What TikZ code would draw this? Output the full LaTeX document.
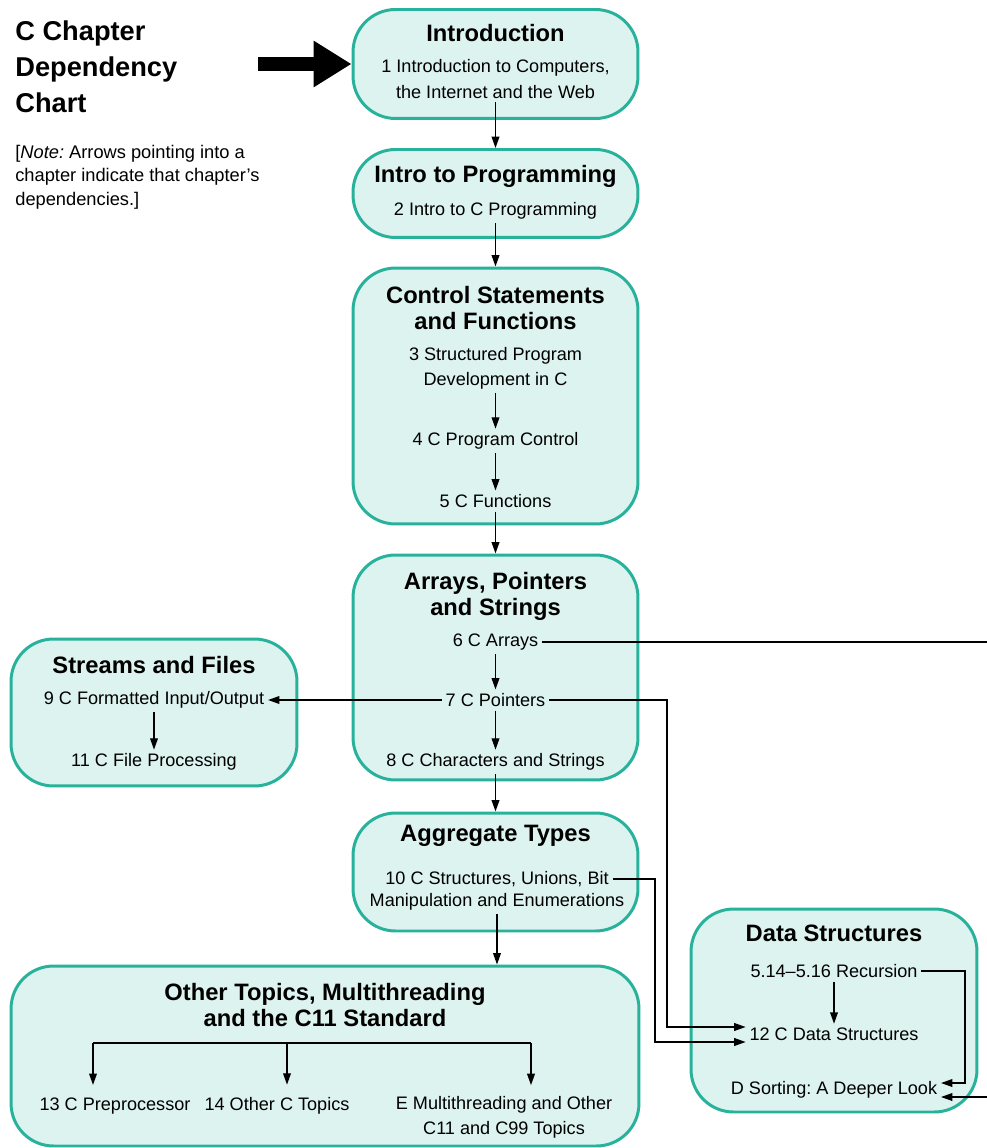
\documentclass[tikz,border=0pt]{standalone}
\usepackage{fontspec}
\setmainfont{Liberation Sans}
\usepackage{tikz}
\usetikzlibrary{arrows.meta,positioning,calc}
\definecolor{chapTeal}{RGB}{40,178,155}
\definecolor{chapMint}{RGB}{221,243,239}
\frenchspacing

\begin{document}
\begin{tikzpicture}[
    x=0.02cm, y=-0.02cm,
    box/.style={rectangle, draw=chapTeal, fill=chapMint, line width=1.7pt, rounded corners=0.85cm},
    head/.style={font=\fontsize{13.5}{14.8}\selectfont\bfseries, align=center, inner sep=0pt},
    chap/.style={font=\fontsize{10.3}{14.3}\selectfont, align=center, inner sep=2pt},
    arrow/.style={-{Triangle[length=6.5pt, width=4.4pt]}, line width=0.8pt}
]
    \useasboundingbox (0,0) rectangle (986,1148);

    % Title and note
    \node[anchor=north west, inner sep=0pt, align=left, font=\fontsize{15.5}{20.7}\selectfont\bfseries] (charttitle) at (15,20) {C Chapter\\Dependency\\Chart};
    \node[anchor=north west, inner sep=0pt, align=left, font=\fontsize{10.4}{13.3}\selectfont] (note) at (15,145) {[\textit{Note:} Arrows pointing into a\\chapter indicate that chapter's\\dependencies.]};

    % Boxes
    \node[box, minimum width=5.70cm, minimum height=2.18cm] (introbox) at (495.5,64) {};
    \node[box, minimum width=5.70cm, minimum height=1.76cm] (progbox) at (495.5,193.5) {};
    \node[box, minimum width=5.70cm, minimum height=5.12cm] (ctrlbox) at (495.5,396) {};
    \node[box, minimum width=5.70cm, minimum height=4.50cm] (arrbox) at (495.5,667.5) {};
    \node[box, minimum width=5.70cm, minimum height=2.36cm] (aggbox) at (495.5,872) {};
    \node[box, minimum width=12.56cm, minimum height=3.60cm] (othbox) at (325,1056) {};
    \node[box, minimum width=5.72cm, minimum height=2.94cm] (strbox) at (154,712.5) {};
    \node[box, minimum width=5.72cm, minimum height=4.06cm] (dsbox) at (834,1010.5) {};

    % Introduction
    \node[head] (introttl) at (495.5,33) {Introduction};
    \node[chap] (ch1) at (495.5,79) {1 Introduction to Computers,\\the Internet and the Web};

    % Intro to Programming
    \node[head] (progttl) at (495.5,176) {Intro to Programming};
    \node[chap] (ch2) at (495.5,211) {2 Intro to C Programming};

    % Control Statements and Functions
    \node[head] (ctrlttl) at (495.5,308) {Control Statements\\and Functions};
    \node[chap] (ch3) at (495.5,368) {3 Structured Program\\Development in C};
    \node[chap] (ch4) at (495.5,441) {4 C Program Control};
    \node[chap] (ch5) at (495.5,501) {5 C Functions};

    % Arrays, Pointers and Strings
    \node[head] (arrttl) at (495.5,596) {Arrays, Pointers\\and Strings};
    \node[chap] (ch6) at (495.5,642) {6 C Arrays};
    \node[chap] (ch7) at (495.5,700) {7 C Pointers};
    \node[chap] (ch8) at (495.5,762) {8 C Characters and Strings};

    % Aggregate Types
    \node[head] (aggttl) at (495.5,836) {Aggregate Types};
    \node[chap] (ch10) at (497,879) {10 C Structures, Unions, Bit};
    \node[chap] (ch10b) at (497,902) {Manipulation and Enumerations};

    % Other Topics
    \node[head] (othttl) at (325,1005) {Other Topics, Multithreading\\and the C11 Standard};
    \node[chap] (ch13) at (115,1106) {13 C Preprocessor};
    \node[chap] (ch14) at (277,1106) {14 Other C Topics};
    \node[chap] (chE) at (504,1117) {E Multithreading and Other\\C11 and C99 Topics};

    % Streams and Files
    \node[head] (strttl) at (154,665) {Streams and Files};
    \node[chap] (ch9) at (154,700) {9 C Formatted Input/Output};
    \node[chap] (ch11) at (154,762) {11 C File Processing};

    % Data Structures
    \node[head] (dsttl) at (834,933) {Data Structures};
    \node[chap] (rec) at (834,971) {5.14--5.16 Recursion};
    \node[chap] (ch12) at (834,1034) {12 C Data Structures};
    \node[chap] (chD) at (834,1090) {D Sorting: A Deeper Look};

    % Lanes
    \coordinate (pointer) at (258,64);
    \coordinate (offpage) at (1000,642);
    \coordinate (lane7) at (667,0);
    \coordinate (lane10) at (655,0);
    \coordinate (laneR) at (965,0);
    \coordinate (barL) at (93,1043);
    \coordinate (barM) at (287,1043);
    \coordinate (barR) at (531,1043);

    % Big arrow
    \draw[line width=7.9pt, -{Triangle[length=0.76cm, width=0.88cm]}] (pointer) -- (introbox.west);

    % Main column
    \draw[arrow] (ch1) -- (progbox);
    \draw[arrow] (ch2) -- (ctrlbox);
    \draw[arrow] (ch3) -- (ch4);
    \draw[arrow] (ch4) -- (ch5);
    \draw[arrow] (ch5) -- (arrbox);
    \draw[arrow] (ch6) -- (ch7);
    \draw[arrow] (ch7) -- (ch8);
    \draw[arrow] (ch8) -- (aggbox);
    \draw[arrow] (ch10b) -- (ch10b |- othbox.north);

    % Side arrows
    \draw[arrow] (ch7) -- (ch9);
    \draw[arrow] (ch9) -- (ch11);
    \draw[arrow] (rec) -- (ch12);
    \draw[arrow] (ch6) -- (offpage) |- ([yshift=-0.14cm]chD.east);
    \draw[arrow] (rec) -- (rec -| laneR) |- ([yshift=0.14cm]chD.east);
    \draw[arrow] (ch7) -- (ch7 -| lane7) |- ([yshift=0.14cm]ch12.west);
    \draw[arrow] (ch10) -- (ch10 -| lane10) |- ([yshift=-0.16cm]ch12.west);

    % Split
    \draw[line width=0.8pt] (barL) -- (barR);
    \draw[arrow] (barL) -- ($(barL |- ch13.north)+(0,-9)$);
    \draw[arrow] (barM) -- ($(barM |- ch14.north)+(0,-9)$);
    \draw[arrow] (barR) -- ($(barR |- chE.north)+(0,-7)$);
\end{tikzpicture}
\end{document}
